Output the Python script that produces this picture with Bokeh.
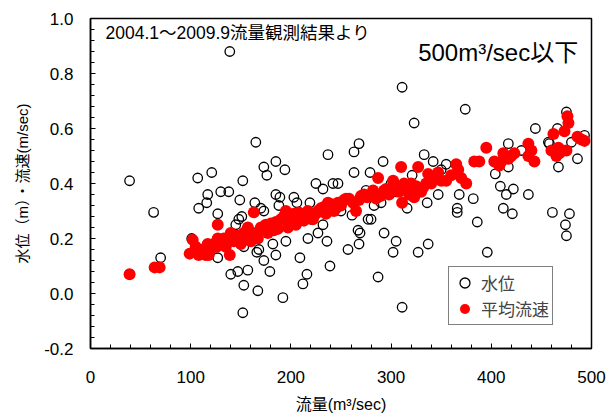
from bokeh.plotting import figure
from bokeh.models import Range1d, Legend, LegendItem, Label, SingleIntervalTicker
from bokeh.embed import file_html
from bokeh.resources import INLINE

# 水位 (hollow circles)
wl_x = [39, 63, 70, 101, 107, 108, 116, 117, 121, 127, 127, 130, 138, 139, 140, 145, 147, 149, 148, 151,
        152, 152, 153, 153, 157, 164, 165, 166, 167, 168, 170, 173, 173, 173, 176, 179, 182, 185, 185, 185,
        188, 189, 192, 194, 195, 203, 206, 209, 212, 216, 217, 219, 225, 227, 232, 232, 236, 237, 239, 242,
        247, 257, 261, 263, 263, 267, 268, 268, 269, 275, 277, 280, 279, 283, 287, 292, 293, 302, 305, 305,
        311, 311, 316, 321, 323, 327, 333, 336, 337, 342, 347, 355, 366, 366, 368, 374, 382, 386, 396, 404,
        409, 412, 415, 417, 417, 421, 422, 437, 444, 458, 461, 466, 467, 474, 475, 475, 478, 486, 493,
        200, 220, 250, 290, 300, 350, 430, 457, 480]
wl_y = [0.41, 0.295, 0.13, 0.20, 0.42, 0.31, 0.33, 0.36, 0.44, 0.29, 0.13, 0.37, 0.37, 0.88, 0.07, 0.25, 0.08, 0.34, 0.27, 0.28,
        0.41, -0.07, 0.17, 0.03, 0.085, 0.33, 0.55, 0.15, 0.01, 0.16, 0.31, 0.46, 0.30, 0.12, 0.43, 0.08, 0.18, 0.48, 0.36, 0.14,
        0.32, 0.35, -0.015, 0.45, 0.19, 0.35, 0.33, 0.13, 0.035, 0.07, 0.20, 0.33, 0.40, 0.22, 0.38, 0.25, 0.19, 0.505, 0.10, 0.40,
        0.40, 0.16, 0.285, 0.515, 0.44, 0.23, 0.545, 0.18, 0.22, 0.375, 0.27, 0.27, 0.44, 0.32, 0.06, 0.48, 0.22, 0.15, 0.37, 0.19,
        0.75, -0.05, 0.31, 0.43, 0.62, 0.15, 0.505, 0.33, 0.18, 0.48, 0.36, 0.47, 0.31, 0.295, 0.36, 0.67, 0.345, 0.26, 0.15, 0.435,
        0.39, 0.31, 0.36, 0.545, 0.46, 0.29, 0.38, 0.36, 0.60, 0.545, 0.295, 0.60, 0.46, 0.25, 0.66, 0.21, 0.29, 0.49, 0.575,
        0.25, 0.27, 0.30, 0.33, 0.40, 0.45, 0.52, 0.55, 0.55]

# 平均流速 (red dots)
v_x = [39, 64, 69, 99, 102, 108, 112, 115, 117, 118, 123, 126, 127, 127, 133, 139, 140, 145, 148, 150,
       153, 157, 160, 163, 167, 170, 173, 177, 180, 185, 187, 190, 193, 197, 200, 203, 208, 210, 213, 217,
       220, 225, 227, 230, 233, 237, 240, 243, 245, 247, 250, 253, 255, 258, 262, 265, 268, 270, 273, 276,
       280, 282, 285, 287, 290, 293, 295, 298, 302, 305, 308, 310, 311, 313, 315, 318, 320, 323, 325, 327,
       330, 332, 335, 337, 340, 343, 347, 350, 355, 360, 365, 367, 370, 375, 383, 388, 395, 403, 408, 410,
       412, 417, 420, 423, 437, 437, 440, 443, 460, 462, 465, 467, 468, 471, 473, 475, 477, 476, 486, 490, 493,
       105, 110, 120, 130, 135, 143, 155, 158, 165, 175, 183, 195, 205, 215, 222, 235]
v_y = [0.07, 0.095, 0.095, 0.145, 0.195, 0.14, 0.16, 0.14, 0.18, 0.14, 0.18, 0.17, 0.25, 0.20, 0.20, 0.14, 0.22, 0.21, 0.21, 0.18,
       0.22, 0.24, 0.19, 0.295, 0.20, 0.24, 0.235, 0.22, 0.255, 0.26, 0.235, 0.27, 0.28, 0.24, 0.265, 0.29, 0.295, 0.27, 0.265, 0.30,
       0.28, 0.29, 0.30, 0.31, 0.315, 0.33, 0.325, 0.30, 0.31, 0.33, 0.32, 0.34, 0.345, 0.345, 0.33, 0.30, 0.34, 0.355, 0.36, 0.35,
       0.36, 0.375, 0.345, 0.42, 0.355, 0.375, 0.38, 0.36, 0.41, 0.39, 0.37, 0.46, 0.33, 0.40, 0.38, 0.36, 0.40, 0.35, 0.39, 0.46,
       0.37, 0.385, 0.40, 0.435, 0.40, 0.42, 0.44, 0.41, 0.41, 0.43, 0.47, 0.45, 0.42, 0.40, 0.48, 0.48, 0.53, 0.48, 0.465, 0.48,
       0.51, 0.49, 0.50, 0.51, 0.545, 0.50, 0.52, 0.48, 0.52, 0.58, 0.50, 0.53, 0.51, 0.52, 0.59, 0.52, 0.62, 0.645, 0.57, 0.56, 0.555,
       0.17, 0.15, 0.16, 0.19, 0.17, 0.19, 0.20, 0.23, 0.22, 0.25, 0.23, 0.30, 0.25, 0.28, 0.27, 0.29]

x_ticks = [0, 100, 200, 300, 400, 500]
y_ticks = [-0.2, 0.0, 0.2, 0.4, 0.6, 0.8, 1.0]

FONT = "Liberation Sans, Noto Sans CJK JP"

p = figure(width=607, height=419, output_backend="svg", toolbar_location=None,
           x_range=Range1d(0, 500), y_range=Range1d(-0.2, 1.0),
           min_border_left=90, min_border_right=16, min_border_top=18, min_border_bottom=71)
p.background_fill_color = "white"
p.border_fill_color = "white"
p.outline_line_color = "black"
p.outline_line_width = 1.5
p.xgrid.visible = False
p.ygrid.visible = False

p.xaxis.ticker = SingleIntervalTicker(interval=100, num_minor_ticks=5)
p.yaxis.ticker = SingleIntervalTicker(interval=0.2, num_minor_ticks=5)
p.yaxis.major_label_overrides = {t: f"{t:.1f}" for t in y_ticks}
p.yaxis.major_label_overrides[0] = "0.0"

for ax in (p.xaxis[0], p.yaxis[0]):
    ax.axis_line_color = "black"
    ax.axis_line_width = 1.5
    ax.major_tick_in = 5
    ax.major_tick_out = 0
    ax.minor_tick_in = 4
    ax.minor_tick_out = 0
    ax.major_tick_line_color = "black"
    ax.minor_tick_line_color = "black"
    ax.major_label_text_font = FONT
    ax.major_label_text_font_size = "17px"
    ax.major_label_text_color = "black"
    ax.axis_label_text_font = FONT
    ax.axis_label_text_font_style = "normal"
    ax.axis_label_text_color = "black"

p.xaxis.major_label_standoff = 22
p.yaxis.major_label_standoff = 17
p.xaxis.axis_label = "流量(m³/sec)"
p.yaxis.axis_label = "水位（m）・流速(m/sec)"
p.xaxis.axis_label_text_font_size = "16px"
p.yaxis.axis_label_text_font_size = "15px"
p.xaxis.axis_label_standoff = 10
p.yaxis.axis_label_standoff = 10

r1 = p.scatter(wl_x, wl_y, size=9.5, marker="circle", fill_color=None,
               line_color="black", line_width=1.3)
r2 = p.scatter(v_x, v_y, size=12, marker="circle", fill_color="#FF0000",
               line_color="#FF0000", line_width=0)

legend = Legend(items=[LegendItem(label="水位", renderers=[r1]),
                       LegendItem(label="平均流速", renderers=[r2])],
                location=(358, 23), orientation="vertical")
legend.label_text_font = FONT
legend.label_text_font_size = "17px"
legend.border_line_color = "black"
legend.border_line_width = 1
legend.background_fill_alpha = 1
legend.glyph_width = 25
legend.glyph_height = 25
legend.label_standoff = 4
legend.padding = 3
legend.spacing = 1
legend.margin = 0
p.add_layout(legend, "center")

p.add_layout(Label(x=15, y=0.949, text="2004.1～2009.9流量観測結果より", text_font=FONT,
                   text_font_size="17.5px", text_baseline="middle", text_color="black"))
p.add_layout(Label(x=327, y=0.876, text="500m³/sec以下", text_font=FONT,
                   text_font_size="24px", text_baseline="middle", text_color="black"))

open("out.html", "w").write(file_html(p, INLINE))
